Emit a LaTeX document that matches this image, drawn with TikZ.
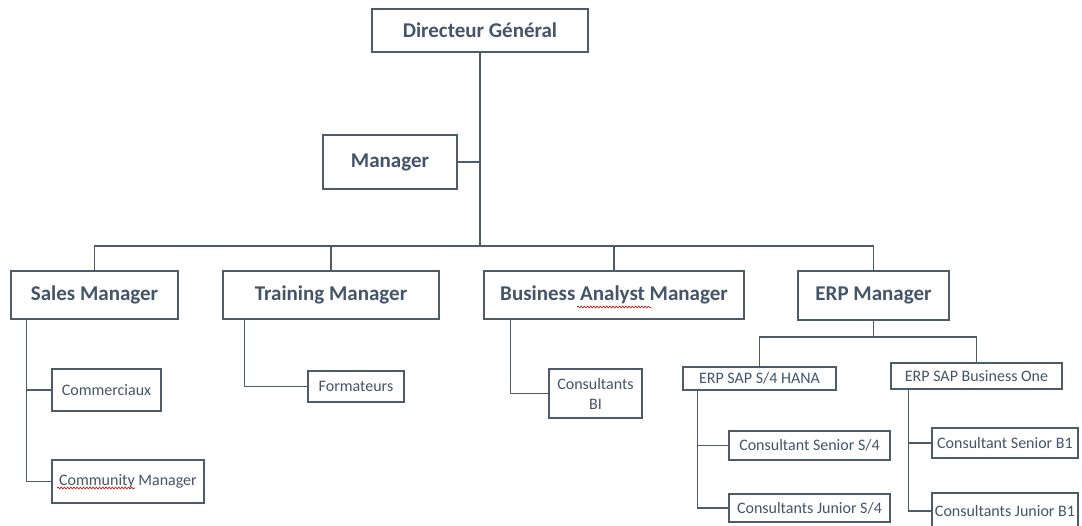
\documentclass[tikz,border=0pt]{standalone}
\usepackage{fontspec}
\setmainfont{Carlito}
\usetikzlibrary{decorations.pathmorphing}
\definecolor{ink}{HTML}{44546A}
\definecolor{frame}{HTML}{4F5B6B}
\begin{document}
\begin{tikzpicture}[x=1pt,y=-1pt,
  box/.style={draw=frame, line width=1.3pt, fill=white, text=ink, inner sep=0pt, align=center},
  bigbox/.style={box, font=\fontsize{21}{24}\selectfont\bfseries},
  smallbox/.style={box, font=\fontsize{16}{20}\selectfont},
  link/.style={draw=frame, line width=1.3pt},
  spell/.style={draw=red!85!black, line width=0.6pt, decorate,
    decoration={snake, amplitude=0.9pt, segment length=3.2pt}}]
\useasboundingbox (0,0) rectangle (1082,526);

% top level
\node[bigbox, minimum width=216, minimum height=43] (dg) at (480,30.5) {Directeur Général};
\node[bigbox, minimum width=134, minimum height=54] (mgr) at (390,162) {Manager};

% second level
\node[bigbox, minimum width=167, minimum height=48] (sales) at (94.5,295) {Sales Manager};
\node[bigbox, minimum width=216, minimum height=48] (train) at (331,295) {Training Manager};
\node[bigbox, minimum width=260, minimum height=48] (ba) at (614,295) {Business Analyst Manager};
\node[bigbox, minimum width=151, minimum height=49] (erp) at (873.5,295.5) {ERP Manager};

% teams
\node[smallbox, minimum width=109, minimum height=42] (comm) at (106.5,390) {Commerciaux};
\node[smallbox, minimum width=152, minimum height=43] (cm) at (128,481.5) {Community Manager};
\node[smallbox, minimum width=96, minimum height=31] (form) at (356,386.5) {Formateurs};
\node[smallbox, minimum width=93, minimum height=49] (bi) at (595.5,393.5) {Consultants\\BI};
\node[smallbox, minimum width=153, minimum height=23] (s4) at (759.5,378.5) {ERP SAP S/4 HANA};
\node[smallbox, minimum width=171, minimum height=26] (b1) at (976.5,376) {ERP SAP Business One};
\node[smallbox, minimum width=161, minimum height=29] (ss4) at (809.5,445.5) {Consultant Senior S/4};
\node[smallbox, minimum width=161, minimum height=28] (js4) at (809.5,508) {Consultants Junior S/4};
\node[smallbox, minimum width=146, minimum height=30] (sb1) at (1005,443) {Consultant Senior B1};
\node[smallbox, minimum width=146, minimum height=36] (jb1) at (1005,511) {Consultants Junior B1};

% spelling marks
\path[spell] (577,307) -- (651,307);
\path[spell] (57,488) -- (135,488);

% main trunk and bus
\coordinate (bus) at (480,246);
\draw[link] (dg.south) -- (bus);
\draw[link] (mgr.east) -- (mgr.east -| dg.south);
\draw[link] (sales.north) |- (bus) -| (erp.north);
\draw[link] (train.north) -- (train.north |- bus);
\draw[link] (ba.north) -- (ba.north |- bus);

% sales branch
\coordinate (sv) at ([xshift=16pt]sales.south west);
\draw[link] (sv) |- (cm.west);
\draw[link] (comm.west) -- (comm.west -| sv);

% training branch
\draw[link] ([xshift=22pt]train.south west) |- (form.west);

% business analyst branch
\draw[link] ([xshift=27pt]ba.south west) |- (bi.west);

% ERP branch
\coordinate (ej) at (874,337);
\draw[link] (erp.south) -- (erp.south |- ej);
\draw[link] (s4.north) |- (ej) -| (b1.north);

\coordinate (s4v) at ([xshift=15pt]s4.south west);
\draw[link] (s4v) |- (js4.west);
\draw[link] (ss4.west) -- (ss4.west -| s4v);

\coordinate (b1v) at ([xshift=18pt]b1.south west);
\draw[link] (b1v) |- (jb1.west);
\draw[link] (sb1.west) -- (sb1.west -| b1v);
\end{tikzpicture}
\end{document}
